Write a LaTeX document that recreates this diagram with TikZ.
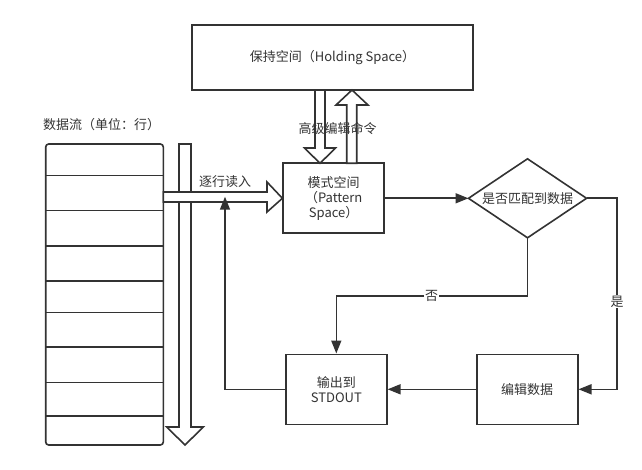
\documentclass[tikz,border=0pt]{standalone}
\usepackage{fontspec}
\setmainfont{Noto Sans CJK SC}
\usetikzlibrary{arrows.meta}
\definecolor{ln}{HTML}{333333}
\begin{document}
\begin{tikzpicture}[x=1pt,y=-1pt,
  txt/.style={text=ln,font=\fontsize{13}{15}\selectfont,align=center,inner sep=0pt},
  box/.style={txt,draw=ln,line width=1.6pt,fill=white,minimum width=101pt,minimum height=70pt},
  conn/.style={draw=ln,line width=1.6pt,-{Triangle[length=13pt,width=10pt]}},
  hollow/.style={draw=ln,line width=1.6pt,fill=white,line join=miter},
  lbl/.style={txt,fill=white,inner sep=1pt}]
\useasboundingbox (0,0) rectangle (642,470);

% boxes
\node[box,minimum width=281pt,minimum height=65pt] (hold) at (332.5,57.5) {保持空间（Holding Space）};
\node[box] (pat) at (333.7,198.3) {模式空间\\（Pattern\\Space）};
\coordinate (dN) at (527.5,158.8);
\coordinate (dE) at (586.5,198.3);
\coordinate (dS) at (527.5,237.8);
\coordinate (dW) at (468.5,198.3);
\draw[draw=ln,line width=1.6pt,fill=white,line join=miter] (dN) -- (dE) -- (dS) -- (dW) -- cycle;
\node[txt] (dia) at (527.5,198.3) {是否匹配到数据};
\node[box] (out) at (336.3,389.3) {输出到\\STDOUT};
\node[box] (edit) at (527.2,389.3) {编辑数据};

% data stream stack
\node[txt] (dlabel) at (101.5,125) {数据流（单位：行）};
\draw[draw=ln,line width=1.6pt,fill=white,rounded corners=3pt] (45.7,144) rectangle (163.3,445);
\foreach \y in {175.7,210.7,246,281,312.3,346.7,382.3,415.7}
  \draw[ln,line width=1.6pt] (45.7,\y) -- (163.3,\y);

% vertical hollow arrow
\draw[hollow] (179,144) -- (191,144) -- (191,427) -- (203.3,427) -- (185,445) -- (166.7,427) -- (179,427) -- cycle;

% horizontal hollow arrow (read line by line)
\draw[hollow] (163.3,192) -- (267,192) -- (267,182) -- (pat.west) -- (267,212) -- (267,202) -- (163.3,202) -- cycle;
\node[txt] (readlbl) at (225,182) {逐行读入};

% hollow arrows between hold and pattern
\draw[hollow] (315,90) -- (325,90) -- (325,148) -- (335.5,148) -- (320,163.3) -- (304.5,148) -- (315,148) -- cycle;
\draw[hollow] (346.7,163.3) -- (356.7,163.3) -- (356.7,105) -- (368,105) -- (352,90) -- (336,105) -- (346.7,105) -- cycle;
\node[txt] (cmdlbl) at (337.5,128.3) {高级编辑命令};

% connectors
\draw[conn] (pat.east) -- (dW);
\draw[conn] (dE) -- ++(30.5,0) coordinate (c1) |- (edit.east);
\node[lbl] (yes) at (617,301.7) {是};
\draw[conn] (dS) -- ++(0,58.2) coordinate (c2) -| (out.north);
\node[lbl] (no) at (431.7,296) {否};
\draw[conn] (edit.west) -- (out.east);
\coordinate (back) at (225,196.7);
\draw[conn] (out.west) -| (back);
\end{tikzpicture}
\end{document}
